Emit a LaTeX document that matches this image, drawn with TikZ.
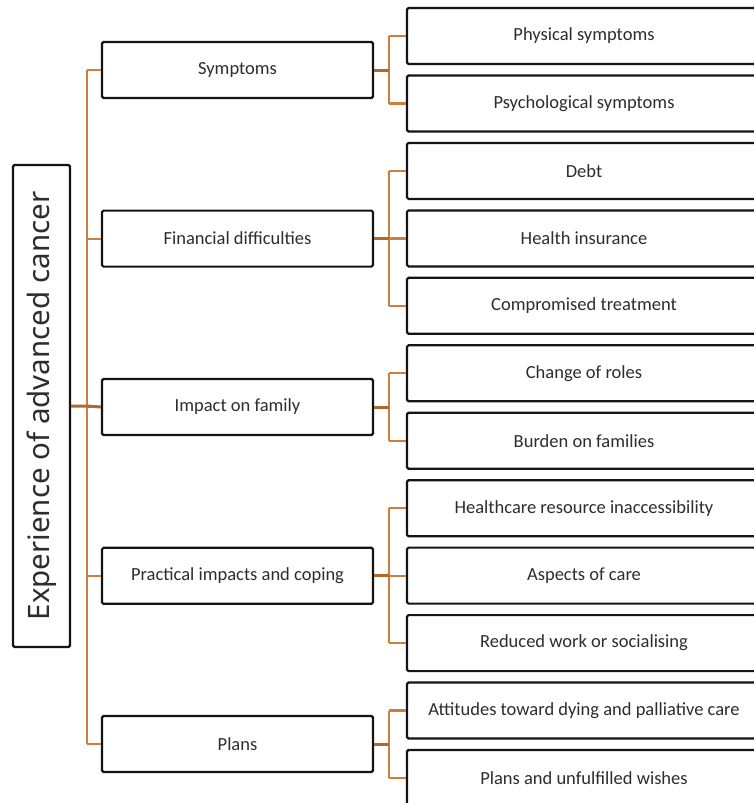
\documentclass[tikz,border=0pt]{standalone}
\usepackage{fontspec}
\setmainfont{Carlito}
\newfontfamily\titlefont{Noto Sans}
\definecolor{linkorange}{RGB}{204,126,62}
\definecolor{linkbrown}{RGB}{176,104,48}
\definecolor{boxtext}{RGB}{45,45,45}

\begin{document}
\begin{tikzpicture}[x=1pt,y=-1pt,
  box/.style={draw=black!92, line width=2.2pt, rounded corners=1.5pt, fill=white,
    inner sep=0pt, text=boxtext, font=\fontsize{18.5}{20}\selectfont},
  themebox/.style={box, minimum width=271pt, minimum height=56pt},
  subbox/.style={box, minimum width=354pt, minimum height=56pt},
  link/.style={draw=linkorange, line width=2.2pt},
  mainlink/.style={draw=linkbrown, line width=3pt},
]
\clip (0,0) rectangle (754,803);
\fill[white] (0,0) rectangle (754,803);

% root
\node[box, minimum width=482pt, minimum height=57pt, rotate=90] (root) at (41.5,406)
  {\titlefont\fontsize{29.5}{32}\selectfont Experience of advanced cancer};

% themes
\node[themebox] (t1) at (237.5,70)    {Symptoms};
\node[themebox] (t2) at (237.5,238.6) {Financial difficulties};
\node[themebox] (t3) at (237.5,407)   {Impact on family};
\node[themebox] (t4) at (237.5,575.8) {Practical impacts and coping};
\node[themebox] (t5) at (237.5,744)   {Plans};

% sub-themes
\node[subbox] (c1)  at (584,36.0)  {Physical symptoms};
\node[subbox] (c2)  at (584,103.5) {Psychological symptoms};
\node[subbox] (c3)  at (584,170.9) {Debt};
\node[subbox] (c4)  at (584,238.4) {Health insurance};
\node[subbox] (c5)  at (584,305.8) {Compromised treatment};
\node[subbox] (c6)  at (584,373.3) {Change of roles};
\node[subbox] (c7)  at (584,440.7) {Burden on families};
\node[subbox] (c8)  at (584,508.2) {Healthcare resource inaccessibility};
\node[subbox] (c9)  at (584,575.6) {Aspects of care};
\node[subbox] (c10) at (584,643.1) {Reduced work or socialising};
\node[subbox] (c11) at (584,710.5) {Attitudes toward dying and palliative care};
\node[subbox] (c12) at (584,778.0) {Plans and unfulfilled wishes};

% trunk and branches
\coordinate (hub) at (87,406);
\coordinate (bx) at (389,0);

\draw[link] (t1.west -| hub) -- (t5.west -| hub);
\foreach \t in {t1,t2,t3,t4,t5} {
  \draw[link] (\t.west -| hub) -- (\t.west);
}
\draw[mainlink] (root) -- (hub) -- (t3.west);

% brackets from each theme to its sub-themes
\foreach \p/\first/\last/\kids in {t1/c1/c2/{c1,c2}, t2/c3/c5/{c3,c4,c5},
    t3/c6/c7/{c6,c7}, t4/c8/c10/{c8,c9,c10}, t5/c11/c12/{c11,c12}} {
  \draw[link] (\first.west -| bx) -- (\last.west -| bx);
  \foreach \k in \kids {
    \draw[link] (\k.west -| bx) -- (\k.west);
  }
  \draw[mainlink] (\p.east) -- (\p.east -| bx);
}
\end{tikzpicture}
\end{document}
